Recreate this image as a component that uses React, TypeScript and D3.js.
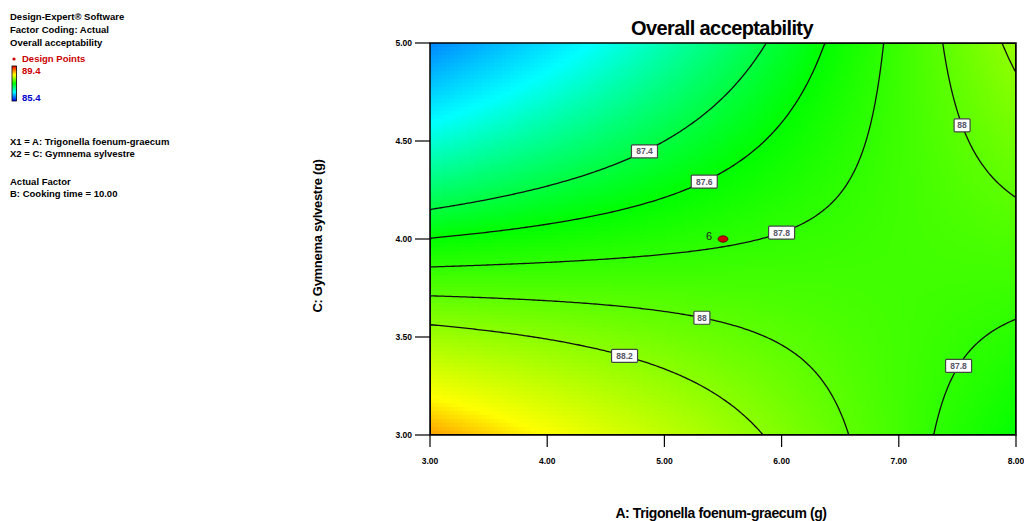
import React, { useMemo } from 'react';
import * as d3 from 'd3';

// Fitted response surface (actual factors): Overall acceptability = f(A, C)
const modelTerms = ['Intercept', 'A', 'C', 'AC', 'A^2', 'C^2'];
const modelCoefs = [96.75398, -1.26368, -2.31891, 0.3368, -0.00165, -0.00678];

const xTicks = [3, 4, 5, 6, 7, 8];
const yTicks = [3, 3.5, 4, 4.5, 5];
const contourLevels = [87.4, 87.6, 87.8, 88.0, 88.2];

// contour labels: level + A position where the label sits on its line
const labelLevels = [87.4, 87.6, 87.8, 88.0, 88.0, 88.2, 87.8];
const labelA = [4.83, 5.34, 6.0, 7.54, 5.32, 4.66, 7.51];

const designA = [5.5];
const designC = [4.0];
const designCount = ['6'];

const legendTop = ['Design-Expert\u00ae Software', 'Factor Coding: Actual', 'Overall acceptability'];
const legendFactors = ['X1 = A: Trigonella foenum-graecum', 'X2 = C: Gymnema sylvestre'];
const legendActual = ['Actual Factor', 'B: Cooking time = 10.00'];
const legendRange = [89.4, 85.4];

const W = 1024;
const H = 521;
const plot = { left: 430, right: 1016, top: 43, bottom: 435 };
const FONT = '"Liberation Sans", Arial, sans-serif';

const model = (a: number, c: number) => {
  const t = [1, a, c, a * c, a * a, c * c];
  return t.reduce((s, v, i) => s + v * modelCoefs[i], 0);
};

// C on the contour for a given A (bisection over the C range)
const solveC = (a: number, level: number) => {
  let lo = 3, hi = 5;
  const flo = model(a, lo) - level;
  for (let k = 0; k < 50; k++) {
    const mid = (lo + hi) / 2;
    const fm = model(a, mid) - level;
    if (Math.sign(fm) === Math.sign(flo)) lo = mid; else hi = mid;
  }
  return (lo + hi) / 2;
};

const color = d3.scaleLinear<string>()
  .domain([85.6, 86.8, 87.6, 88.7, 89.4])
  .range(['#0000ff', '#00ffff', '#00ff00', '#ffff00', '#ff0000'])
  .clamp(true);

export default function App() {
  const pw = plot.right - plot.left;
  const ph = plot.bottom - plot.top;
  const x = d3.scaleLinear().domain([3, 8]).range([plot.left, plot.right]);
  const y = d3.scaleLinear().domain([3, 5]).range([plot.bottom, plot.top]);
  const fmt = d3.format('.2f');

  const cells = useMemo(() => {
    const cs = 4;
    const nx = Math.ceil(pw / cs);
    const ny = Math.ceil(ph / cs);
    const out: { x: number; y: number; w: number; h: number; fill: string }[] = [];
    for (let j = 0; j < ny; j++) {
      for (let i = 0; i < nx; i++) {
        const px = plot.left + i * cs;
        const py = plot.top + j * cs;
        const a = x.invert(px + cs / 2);
        const c = y.invert(py + cs / 2);
        out.push({ x: px, y: py, w: Math.min(cs, plot.right - px) + 0.4, h: Math.min(cs, plot.bottom - py) + 0.4, fill: color(model(a, c)) });
      }
    }
    return out;
  }, []);

  const contourPaths = useMemo(() => {
    const nx = 240, ny = 160;
    const values = new Array(nx * ny);
    for (let j = 0; j < ny; j++) {
      for (let i = 0; i < nx; i++) {
        const a = 3 + ((i + 0.5) / nx) * 5;
        const c = 5 - ((j + 0.5) / ny) * 2;
        values[j * nx + i] = model(a, c);
      }
    }
    const cont = d3.contours().size([nx, ny]).thresholds(contourLevels)(values);
    const proj = d3.geoTransform({
      point(px: number, py: number) {
        (this as any).stream.point(plot.left + (px / nx) * pw, plot.top + (py / ny) * ph);
      }
    });
    const path = d3.geoPath(proj);
    return cont.map(c => path(c as any) || '');
  }, []);

  const labels = labelLevels.map((lv, i) => {
    const a = labelA[i];
    const c = solveC(a, lv);
    return { px: x(a), py: y(c), text: `${+lv.toFixed(1)}` };
  });

  return (
    <svg width={W} height={H} style={{ position: 'absolute', left: 0, top: 0, background: '#fff' }} fontFamily={FONT}>
      <defs>
        <linearGradient id="cbar" x1="0" y1="0" x2="0" y2="1">
          <stop offset="0" stopColor="#ff0000" />
          <stop offset="0.25" stopColor="#ffff00" />
          <stop offset="0.5" stopColor="#00ff00" />
          <stop offset="0.75" stopColor="#00ffff" />
          <stop offset="1" stopColor="#0000ff" />
        </linearGradient>
        <clipPath id="plotClip">
          <rect x={plot.left} y={plot.top} width={pw} height={ph} />
        </clipPath>
      </defs>

      {/* left legend block */}
      <g fontWeight="bold" fontSize={9.5} fill="#000">
        {legendTop.map((t, i) => (
          <text key={t} x={10} y={20 + i * 13}>{t}</text>
        ))}
        <circle cx={14} cy={59} r={1.6} fill="#cc0000" />
        <text x={22} y={62} fill="#cc0000">Design Points</text>
        <rect x={12} y={66} width={4.5} height={35} fill="url(#cbar)" stroke="#000" strokeWidth={0.8} />
        <text x={22} y={74} fill="#cc0000">{legendRange[0].toFixed(1)}</text>
        <text x={22} y={101} fill="#0000cc">{legendRange[1].toFixed(1)}</text>
        {legendFactors.map((t, i) => (
          <text key={t} x={10} y={145 + i * 12}>{t}</text>
        ))}
        {legendActual.map((t, i) => (
          <text key={t} x={10} y={185 + i * 12}>{t}</text>
        ))}
      </g>

      {/* title */}
      <text x={722} y={35} textAnchor="middle" fontWeight="bold" fontSize={20} letterSpacing={-0.6}>
        Overall acceptability
      </text>

      {/* colour surface */}
      <g clipPath="url(#plotClip)" shapeRendering="crispEdges">
        {cells.map((c, i) => (
          <rect key={i} x={c.x} y={c.y} width={c.w} height={c.h} fill={c.fill} />
        ))}
      </g>

      {/* contour lines */}
      <g clipPath="url(#plotClip)">
        {contourPaths.map((d, i) => (
          <path key={i} d={d} fill="none" stroke="#111" strokeWidth={1.3} />
        ))}
      </g>

      {/* contour labels */}
      {labels.map((l, i) => {
        const w = l.text.length * 5 + 6;
        return (
          <g key={i}>
            <rect x={l.px - w / 2} y={l.py - 6.5} width={w} height={13} fill="#fff" stroke="#444" strokeWidth={1.2} rx={1} />
            <text x={l.px} y={l.py + 3} textAnchor="middle" fontSize={8.5} fill="#556" fontWeight="bold">{l.text}</text>
          </g>
        );
      })}

      {/* design points */}
      {designA.map((a, i) => (
        <g key={i}>
          <ellipse cx={x(a)} cy={y(designC[i])} rx={5} ry={3.2} fill="#cc0000" stroke="#550000" strokeWidth={0.8} />
          <text x={x(a) - 11} y={y(designC[i]) + 1} textAnchor="end" fontSize={11} fill="#222">{designCount[i]}</text>
        </g>
      ))}

      {/* frame */}
      <rect x={plot.left} y={plot.top} width={pw} height={ph} fill="none" stroke="#000" strokeWidth={1.5} />

      {/* axes */}
      <g fontWeight="bold" fontSize={8.5}>
        {xTicks.map(t => (
          <g key={t}>
            <line x1={x(t)} x2={x(t)} y1={plot.bottom} y2={plot.bottom + 12} stroke="#000" strokeWidth={1.2} />
            <text x={x(t)} y={plot.bottom + 29} textAnchor="middle">{fmt(t)}</text>
          </g>
        ))}
        {yTicks.map(t => (
          <g key={t}>
            <line x1={plot.left - 15} x2={plot.left} y1={y(t)} y2={y(t)} stroke="#000" strokeWidth={1.2} />
            <text x={plot.left - 18} y={y(t) + 3} textAnchor="end">{fmt(t)}</text>
          </g>
        ))}
      </g>

      {/* axis titles */}
      <text x={721} y={518} textAnchor="middle" fontWeight="bold" fontSize={14} letterSpacing={-0.4}>
        A: Trigonella foenum-graecum (g)
      </text>
      <text transform="translate(322,236) rotate(-90)" textAnchor="middle" fontWeight="bold" fontSize={13} letterSpacing={-0.3}>
        C: Gymnema sylvestre (g)
      </text>
    </svg>
  );
}
